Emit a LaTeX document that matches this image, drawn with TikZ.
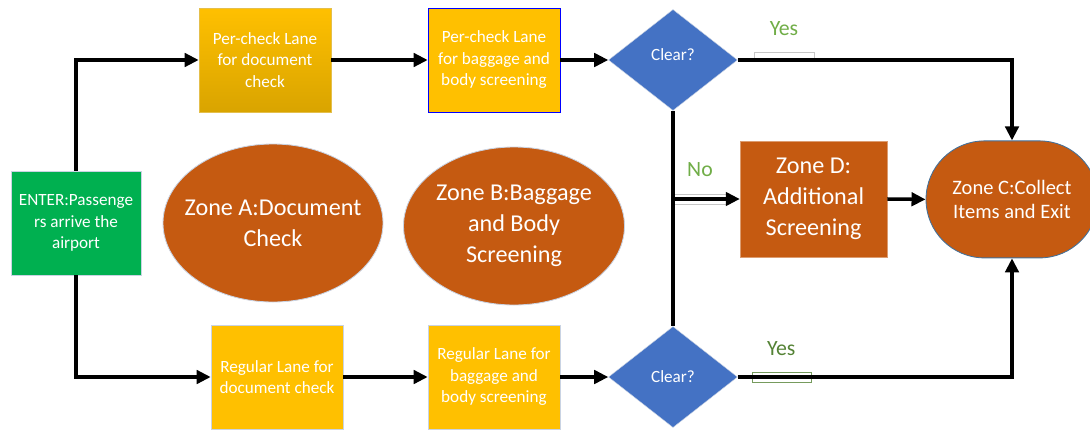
\documentclass[tikz,border=0pt]{standalone}
\usepackage{fontspec}
\setmainfont{Carlito}
\usetikzlibrary{arrows.meta,shapes.geometric,shapes.misc}
\definecolor{lane}{HTML}{FFC000}
\definecolor{lanedark}{HTML}{D9A400}
\definecolor{zone}{HTML}{C55A11}
\definecolor{decide}{HTML}{4472C4}
\definecolor{enter}{HTML}{00B050}
\definecolor{yes}{HTML}{70AD47}
\definecolor{yesdark}{HTML}{548235}
\definecolor{edge}{HTML}{C9D3E3}
\definecolor{ringc}{HTML}{41719C}

\begin{document}
\begin{tikzpicture}[every node/.style={font=\fontsize{12.2}{15.3}\selectfont, text=white, align=center, inner sep=0pt},
    lanebox/.style={draw=edge, line width=0.4pt, fill=lane, minimum width=3.3cm, minimum height=2.6cm},
    decision/.style={diamond, draw=edge, line width=0.3pt, fill=decide, minimum width=3.225cm, minimum height=2.525cm},
    zonetext/.style={font=\fontsize{17.2}{22}\selectfont},
    zoneoval/.style={ellipse, draw=edge, line width=0.6pt, fill=zone, zonetext},
    tag/.style={font=\fontsize{15.5}{18}\selectfont},
    link/.style={line width=2.5pt},
    flow/.style={link, -{Triangle[length=10pt,width=9.5pt]}}]
    \useasboundingbox (0,0) rectangle (27.25,10.725);

    % entry and the two lanes
    \node[draw=edge, line width=0.4pt, fill=enter, minimum width=3.25cm, minimum height=2.6cm]
      (enter) at (1.9,5.15) {ENTER:Passenge\\rs arrive the\\airport};
    \node[lanebox, draw=lanedark!70!white, top color=lane, bottom color=lanedark]
      (perdoc) at (6.625,9.225) {Per-check Lane\\for document\\check};
    \node[lanebox, draw=blue] (perbag) at (12.35,9.225) {Per-check Lane\\for baggage and\\body screening};
    \node[decision] (dtop) at (16.825,9.225) {\raisebox{0.25cm}{Clear?}};
    \node[lanebox] (regdoc) at (6.925,1.3) {Regular Lane for\\document check};
    \node[lanebox] (regbag) at (12.35,1.3) {Regular Lane for\\baggage and\\body screening};
    \node[decision] (dbot) at (16.825,1.3) {Clear?};

    % zones
    \node[zoneoval, inner xsep=-0.35cm, minimum width=5.5cm, minimum height=3.95cm] (zonea) at (6.825,5.15) {Zone A:Document\\Check};
    \node[zoneoval, minimum width=5.525cm, minimum height=3.95cm] (zoneb) at (12.85,5.075) {Zone B:Baggage\\and Body\\Screening};
    \node[draw=zone!60!white, line width=0.4pt, fill=zone, zonetext, minimum width=3.675cm, minimum height=2.9cm]
      (zoned) at (20.34,5.75) {Zone D:\\Additional\\Screening};
    \node[rounded rectangle, draw=ringc, line width=0.6pt, fill=zone, font=\fontsize{14.6}{17.7}\selectfont,
      minimum width=4.3cm, minimum height=2.925cm]
      (zonec) at (25.3,5.74) {Zone C:Collect\\Items and Exit};

    % label frames
    \node[draw=gray!45, line width=0.6pt, minimum width=1.5cm, minimum height=0.2cm] (tagtop) at (19.6,9.325) {};
    \node[draw=yesdark!80!white, line width=0.6pt, minimum width=1.475cm, minimum height=0.25cm] (tagbot) at (19.54,1.3) {};
    \node[draw=gray!45, line width=0.6pt, minimum width=1.3cm, minimum height=0.25cm] (tagno) at (17.5,5.75) {};

    % connectors
    \draw[flow] (enter.north) |- (perdoc.west);
    \draw[flow] (enter.south) |- (regdoc.west);
    \draw[flow] (perdoc.east) -- (perbag.west);
    \draw[flow] (perbag.east) -- (dtop.west);
    \draw[flow] (regdoc.east) -- (regbag.west);
    \draw[flow] (regbag.east) -- (dbot.west);
    \draw[link] (dtop.south) -- (dbot.north);
    \coordinate (nofork) at (dtop.south |- zoned.west);
    \draw[flow] (nofork) -- (zoned.west);
    \draw[flow] (zoned.east) -- (zonec.west);
    \draw[flow] (dtop.east) -| (zonec.north);
    \draw[flow] (dbot.east) -| (zonec.south);

    % branch labels
    \node[tag, text=yes] (yestop) at (19.6,10.0) {Yes};
    \node[tag, text=yes] (no) at (17.5,6.475) {No};
    \node[tag, text=yesdark] (yesbot) at (19.53,2.0) {Yes};
  \end{tikzpicture}
\end{document}
